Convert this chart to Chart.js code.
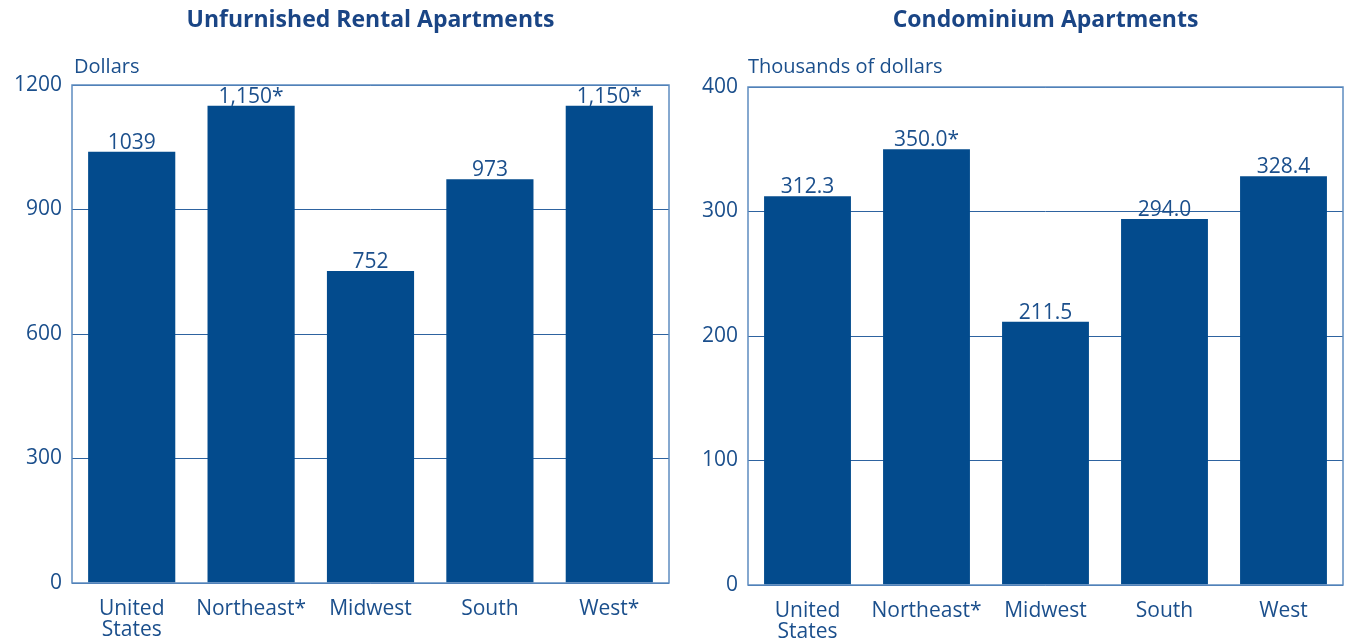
<!DOCTYPE html>
<html>
<head>
<meta charset="utf-8">
<script src="https://cdn.jsdelivr.net/npm/chart.js@4.4.0/dist/chart.umd.min.js"></script>
<style>
  body { margin: 0; background: #fff; }
  #wrap { display: flex; width: 1349px; height: 639px; }
  .box { position: relative; height: 639px; }
</style>
</head>
<body>
<div id="wrap">
  <div class="box" style="width:675px"><canvas id="rentChart"></canvas></div>
  <div class="box" style="width:674px"><canvas id="condoChart"></canvas></div>
</div>
<script>
const regions = [['United', 'States'], 'Northeast*', 'Midwest', 'South', 'West*'];
const condoRegions = [['United', 'States'], 'Northeast*', 'Midwest', 'South', 'West'];

const rentValues = [1039, 1150, 752, 973, 1150];
const rentLabels = ['1039', '1,150*', '752', '973', '1,150*'];
const rentTicks = [0, 300, 600, 900, 1200];

const condoValues = [312.3, 350.0, 211.5, 294.0, 328.4];
const condoLabels = ['312.3', '350.0*', '211.5', '294.0', '328.4'];
const condoTicks = [0, 100, 200, 300, 400];

const FONT = "'Open Sans', sans-serif";
const TEXT = '#1b4f8c';
const BAR = '#034b8d';
const GRID = '#2e63a0';
const FRAME = '#5e8cc0';

// draws values above bars, unit text above the plot and the plot frame
const extras = {
    id: 'extras',
    afterDatasetsDraw(chart, args, opts) {
        const ctx = chart.ctx;
        const area = chart.chartArea;
        ctx.save();
        ctx.strokeStyle = FRAME;
        ctx.lineWidth = 1.5;
        ctx.strokeRect(area.left, area.top, area.right - area.left, area.bottom - area.top);

        ctx.fillStyle = TEXT;
        ctx.font = '20px ' + FONT;
        ctx.textAlign = 'left';
        ctx.textBaseline = 'alphabetic';
        ctx.fillText(opts.unit, area.left + opts.unitDx, 73);

        ctx.font = '21px ' + FONT;
        ctx.textAlign = 'center';
        chart.getDatasetMeta(0).data.forEach((bar, i) => {
            ctx.fillText(opts.labels[i], bar.x, bar.y - 3);
        });
        ctx.restore();
    }
};

function makeChart(id, title, cats, values, labels, ticks, unit, yWidth, topPad, xHeight, unitDx) {
    const ctx = document.getElementById(id).getContext('2d');
    return new Chart(ctx, {
        type: 'bar',
        data: {
            labels: cats,
            datasets: [{
                data: values,
                backgroundColor: BAR,
                borderWidth: 0,
                barPercentage: 0.73,
                categoryPercentage: 1
            }]
        },
        options: {
            responsive: true,
            maintainAspectRatio: false,
            animation: false,
            layout: { padding: { left: 0, right: 6, top: 0, bottom: 0 } },
            plugins: {
                legend: { display: false },
                tooltip: { enabled: false },
                title: {
                    display: true,
                    fullSize: false,
                    text: title,
                    color: '#1a4585',
                    font: { family: FONT, size: 23, weight: 'bold', lineHeight: 1.2 },
                    padding: { top: 7, bottom: topPad - 7 - 27.6 }
                },
                extras: { labels: labels, unit: unit, unitDx: unitDx }
            },
            scales: {
                x: {
                    grid: { display: false, drawTicks: false },
                    border: { display: false },
                    ticks: {
                        color: TEXT,
                        padding: 16,
                        maxRotation: 0,
                        autoSkip: false,
                        font: { family: FONT, size: 21, lineHeight: 1.0 }
                    },
                    afterFit: s => { s.height = xHeight; }
                },
                y: {
                    min: ticks[0],
                    max: ticks[ticks.length - 1],
                    afterBuildTicks: s => { s.ticks = ticks.map(v => ({ value: v })); },
                    grid: { color: GRID, lineWidth: 1, drawTicks: false },
                    border: { display: false },
                    ticks: {
                        color: TEXT,
                        padding: 10,
                        font: { family: FONT, size: 21 },
                        callback: v => String(v)
                    },
                    afterFit: s => { s.width = yWidth; }
                }
            }
        },
        plugins: [extras]
    });
}

makeChart('rentChart', 'Unfurnished Rental Apartments', regions, rentValues, rentLabels,
    rentTicks, 'Dollars', 72, 85, 56, 2);
makeChart('condoChart', 'Condominium Apartments', condoRegions, condoValues, condoLabels,
    condoTicks, 'Thousands of dollars', 73, 87, 54, 0);
</script>
</body>
</html>
